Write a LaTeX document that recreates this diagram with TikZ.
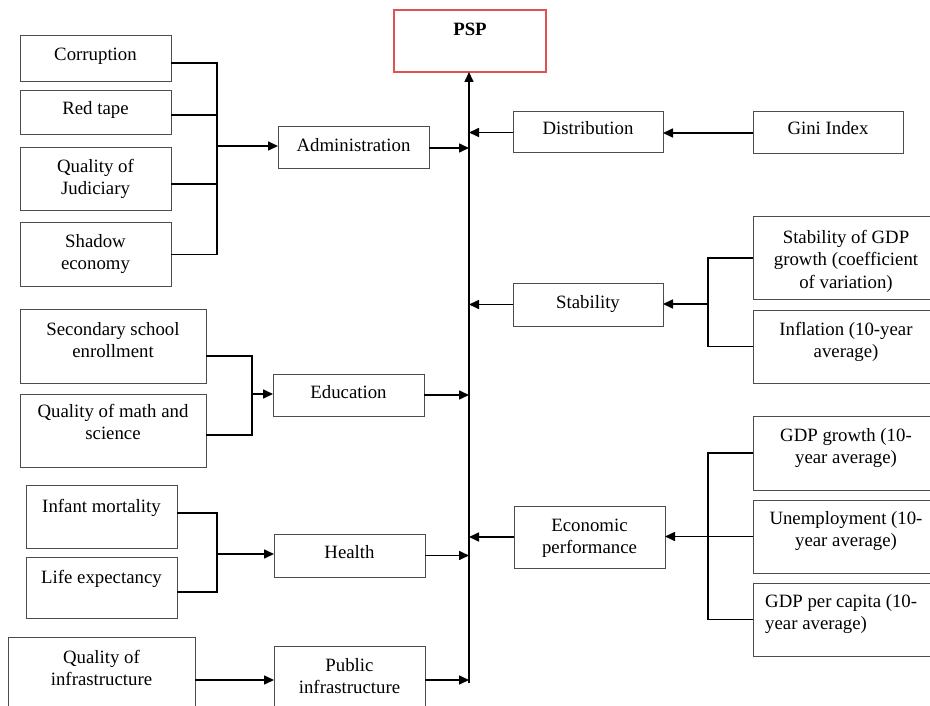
\documentclass[tikz,border=0pt]{standalone}
\usepackage{fontspec}
\setmainfont{Liberation Serif}
\usetikzlibrary{arrows.meta}
\definecolor{pspred}{RGB}{224,82,82}
\begin{document}
\begin{tikzpicture}[x=1pt,y=-1pt,
  box/.style={draw=black!70, line width=1pt, inner sep=0pt, outer sep=0pt, anchor=north west},
  pspbox/.style={box, draw=pspred, line width=2.6pt},
  txt/.style={font=\fontsize{18.8}{22.5}\selectfont, inner sep=0pt, anchor=base, align=center},
  conn/.style={line width=1.9pt, black},
  arr/.style={line width=1.6pt, black, -{Triangle[length=10pt,width=9pt]}},
]
\useasboundingbox (0,0) rectangle (930,706);
\clip (0,0) rectangle (930,706);

% boxes
\node[pspbox, minimum width=152pt, minimum height=62pt] (psp) at (394,10) {};
\node[box, minimum width=151pt, minimum height=46pt] (corr) at (20,36) {};
\node[box, minimum width=151pt, minimum height=44pt] (red) at (20,91) {};
\node[box, minimum width=151pt, minimum height=63pt] (jud) at (20,148) {};
\node[box, minimum width=151pt, minimum height=63pt] (shad) at (20,223) {};
\node[box, minimum width=151pt, minimum height=42pt] (adm) at (278,127) {};
\node[box, minimum width=186pt, minimum height=74pt] (sec) at (20,309) {};
\node[box, minimum width=186pt, minimum height=73pt] (math) at (20,394) {};
\node[box, minimum width=151pt, minimum height=42pt] (edu) at (273,374) {};
\node[box, minimum width=151pt, minimum height=63pt] (inf) at (26,485) {};
\node[box, minimum width=151pt, minimum height=61pt] (life) at (26,557) {};
\node[box, minimum width=151pt, minimum height=43pt] (hea) at (274,534) {};
\node[box, minimum width=187pt, minimum height=83pt] (qinf) at (8,637) {};
\node[box, minimum width=151pt, minimum height=74pt] (pub) at (274,646) {};
\node[box, minimum width=150pt, minimum height=41pt] (dist) at (513,112) {};
\node[box, minimum width=150pt, minimum height=42pt] (gini) at (753,112) {};
\node[box, minimum width=150pt, minimum height=43pt] (stab) at (513,283) {};
\node[box, minimum width=186pt, minimum height=82pt] (sgdp) at (753,217) {};
\node[box, minimum width=186pt, minimum height=73pt] (infl) at (753,310) {};
\node[box, minimum width=151pt, minimum height=62pt] (econ) at (514,506) {};
\node[box, minimum width=186pt, minimum height=74pt] (ggr) at (753,416) {};
\node[box, minimum width=186pt, minimum height=73pt] (unem) at (753,500) {};
\node[box, minimum width=186pt, minimum height=73pt] (gpc) at (753,583) {};

% texts (anchor base = baseline of the last line)
\node[txt] (psp-t) at (470,36) {\bfseries PSP};
\node[txt] (corr-t) at (95.5,61) {Corruption};
\node[txt] (red-t) at (95.5,115) {Red tape};
\node[txt] (jud-t) at (95.5,195) {Quality of\\Judiciary};
\node[txt] (shad-t) at (95.5,269.5) {Shadow\\economy};
\node[txt] (adm-t) at (353.5,152) {Administration};
\node[txt] (sec-t) at (113,357.5) {Secondary school\\enrollment};
\node[txt] (math-t) at (113,439.5) {Quality of math and\\science};
\node[txt] (edu-t) at (348.5,398) {Education};
\node[txt] (inf-t) at (101.5,512) {Infant mortality};
\node[txt] (life-t) at (101.5,583) {Life expectancy};
\node[txt] (hea-t) at (349.5,558) {Health};
\node[txt] (qinf-t) at (101.5,685.5) {Quality of\\infrastructure};
\node[txt] (pub-t) at (349.5,693.5) {Public\\infrastructure};
\node[txt] (dist-t) at (588,135) {Distribution};
\node[txt] (gini-t) at (828,135) {Gini Index};
\node[txt] (stab-t) at (588,308) {Stability};
\node[txt] (sgdp-t) at (846,288) {Stability of GDP\\growth (coefficient\\of variation)};
\node[txt] (infl-t) at (846,357.5) {Inflation (10-year\\average)};
\node[txt] (econ-t) at (589.5,553.5) {Economic\\performance};
\node[txt] (ggr-t) at (846,463.5) {GDP growth (10-\\year average)};
\node[txt] (unem-t) at (846,546.5) {Unemployment (10-\\year average)};
\node[txt, anchor=base west, align=left] (gpc-t) at (765,629.5) {GDP per capita (10-\\year average)};

% junctions
\coordinate (trk) at (469,683);
\coordinate (jadm) at (217,146);
\coordinate (jedu) at (252,394);
\coordinate (jhea) at (217,554);
\coordinate (jstab) at (708,304);
\coordinate (jecon) at (708,536.5);
\coordinate (qe) at ([yshift=-1.5pt]qinf.east);

% trunk
\draw[arr] (trk) -- (trk |- psp.south);

% administration
\draw[conn] ([yshift=-4pt]corr.east) -| (jadm);
\draw[conn] ([yshift=-2pt]red.east) -| (jadm);
\draw[conn] ([yshift=-4.5pt]jud.east) -| (jadm);
\draw[conn] (shad.east) -| (jadm);
\draw[arr] (jadm) -- (jadm -| adm.west);
\draw[arr] (adm.east) -- (adm.east -| trk);

% education
\draw[conn] ([yshift=-10pt]sec.east) -| (jedu);
\draw[conn] ([yshift=-4.5pt]math.east) -| (jedu);
\draw[arr] (jedu) -- (jedu -| edu.west);
\draw[arr] (edu.east) -- (edu.east -| trk);

% health
\draw[conn] ([yshift=3.5pt]inf.east) -| (jhea);
\draw[conn] ([yshift=-4.5pt]life.east) -| (jhea);
\draw[arr] (jhea) -- (jhea -| hea.west);
\draw[arr] (hea.east) -- (hea.east -| trk);

% public infrastructure
\draw[arr] (qe) -- (qe -| pub.west);
\draw[arr] (qe -| pub.east) -- (qe -| trk);

% distribution
\draw[arr] (gini.west) -- (gini.west -| dist.east);
\draw[arr] (dist.west) -- (dist.west -| trk);

% stability
\draw[conn] (sgdp.west) -| (jstab);
\draw[conn] (infl.west) -| (jstab);
\draw[arr] (jstab) -- (jstab -| stab.east);
\draw[arr] (stab.west) -- (stab.west -| trk);

% economic performance
\draw[conn] (ggr.west) -| (jecon);
\draw[conn] (gpc.west) -| (jecon);
\draw[conn] (unem.west) -- (jecon);
\draw[arr] (jecon) -- (jecon -| econ.east);
\draw[arr] (econ.west) -- (econ.west -| trk);
\end{tikzpicture}
\end{document}
